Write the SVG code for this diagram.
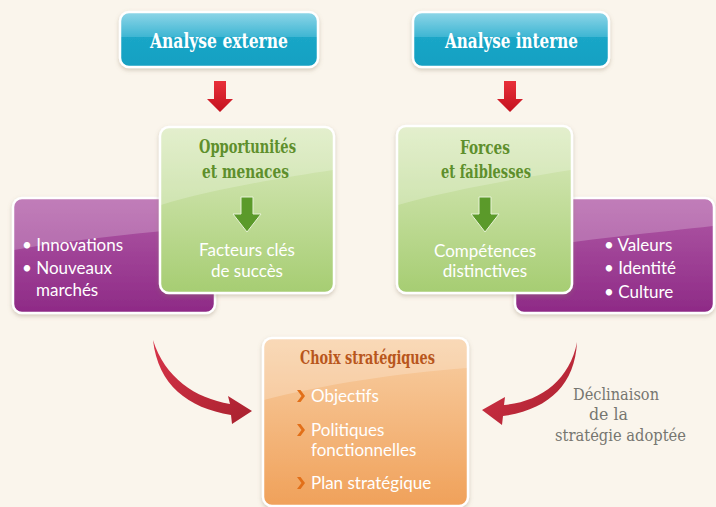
<svg xmlns="http://www.w3.org/2000/svg" width="716" height="507" viewBox="0 0 716 507">
<defs>
<linearGradient id="gBlue" x1="0" y1="0" x2="0" y2="1"><stop offset="0" stop-color="#8fd6e8"/><stop offset="0.45" stop-color="#3fb6d3"/><stop offset="0.46" stop-color="#1aa6c7"/><stop offset="1" stop-color="#14a0c2"/></linearGradient>
<linearGradient id="gGreen" x1="0" y1="0" x2="0" y2="1"><stop offset="0" stop-color="#dcebc0"/><stop offset="1" stop-color="#a6cd72"/></linearGradient>
<linearGradient id="gPurple" x1="0" y1="0" x2="0" y2="1"><stop offset="0" stop-color="#b05aa6"/><stop offset="1" stop-color="#8e2a86"/></linearGradient>
<linearGradient id="gOrange" x1="0" y1="0" x2="0" y2="1"><stop offset="0" stop-color="#f8cfa4"/><stop offset="1" stop-color="#f0a15a"/></linearGradient>
<linearGradient id="gRed" x1="0" y1="0" x2="0" y2="1"><stop offset="0" stop-color="#e8303a"/><stop offset="1" stop-color="#c4121f"/></linearGradient>
<linearGradient id="gCurve" x1="0" y1="0" x2="1" y2="1"><stop offset="0" stop-color="#d8344a"/><stop offset="1" stop-color="#a8212e"/></linearGradient>
<filter id="sh" x="-10%" y="-10%" width="120%" height="130%"><feDropShadow dx="0" dy="2" stdDeviation="2" flood-color="#8a7a60" flood-opacity="0.35"/></filter>
<path id="chev" d="M0 -6 L3.5 -6 L8 0 L3.5 6 L0 6 L4.5 0 Z" fill="#e26f18"/>
</defs>
<style>
.box{stroke:#ffffff;stroke-width:2.5;filter:url(#sh)}
.slab{font-family:"DejaVu Serif",serif;font-weight:bold}
.lbl{font-family:"DejaVu Serif",serif;font-weight:normal;font-size:17px;fill:#767670}
.body{font-family:Lato,"Open Sans",sans-serif;font-size:17px;fill:#ffffff}
.hl{fill:#ffffff;opacity:0.22}
</style>
<rect width="716" height="507" fill="#faf5ec"/>

<g id="connectors">
<path d="M214 81 h12 v18 h7 l-13 13 l-13 -13 h7 z" fill="url(#gRed)"/>
<path d="M504 81 h12 v18 h7 l-13 13 l-13 -13 h7 z" fill="url(#gRed)"/>
<path d="M153 340 C165 378 195 398 230 404 L228 396 L252 411 L232 424 L231 415 C188 408 158 385 153 340 Z" fill="url(#gCurve)"/>
<path d="M577 342 C570 380 540 402 504 405 L505 397 L482 410 L502 425 L503 416 C548 410 575 385 577 342 Z" fill="url(#gCurve)"/>
</g>

<g id="node-analyse-externe">
<rect class="box" x="120" y="12" width="198" height="55" rx="9" fill="url(#gBlue)"/>
<text class="slab" x="150" y="48" font-size="21" fill="#ffffff" textLength="138" lengthAdjust="spacingAndGlyphs">Analyse externe</text>
</g>
<g id="node-analyse-interne">
<rect class="box" x="413" y="12" width="196" height="55" rx="9" fill="url(#gBlue)"/>
<text class="slab" x="445" y="48" font-size="21" fill="#ffffff" textLength="133" lengthAdjust="spacingAndGlyphs">Analyse interne</text>
</g>

<g id="node-innovations">
<rect class="box" x="13" y="198" width="202" height="115" rx="9" fill="url(#gPurple)"/>
<path class="hl" d="M14 199 H214 V226 C150 232 70 240 14 250 Z"/>
<text class="body"><tspan x="22" y="251">• Innovations</tspan><tspan x="22" y="274">• Nouveaux</tspan><tspan x="36" y="296">marchés</tspan></text>
</g>
<g id="node-valeurs">
<rect class="box" x="515" y="198" width="199" height="115" rx="9" fill="url(#gPurple)"/>
<path class="hl" d="M516 199 H713 V226 C660 232 580 240 516 250 Z"/>
<text class="body"><tspan x="604" y="251">• Valeurs</tspan><tspan x="604" y="274">• Identité</tspan><tspan x="604" y="298">• Culture</tspan></text>
</g>

<g id="node-opportunites">
<rect class="box" x="160" y="127" width="174" height="166" rx="9" fill="url(#gGreen)"/>
<path class="hl" d="M161 128 H333 V170 C280 178 210 190 161 205 Z"/>
<text class="slab" x="199" y="153" font-size="19" fill="#5e8f2c" textLength="97" lengthAdjust="spacingAndGlyphs">Opportunités</text>
<text class="slab" x="202" y="178" font-size="19" fill="#5e8f2c" textLength="87" lengthAdjust="spacingAndGlyphs">et menaces</text>
<path d="M241 197 h12 v17 h8 l-14 18 l-14 -18 h8 z" fill="#5b9a2a" stroke="#e8f2d6" stroke-width="1"/>
<text class="body" text-anchor="middle"><tspan x="247" y="256">Facteurs clés</tspan><tspan x="247" y="277">de succès</tspan></text>
</g>
<g id="node-forces">
<rect class="box" x="397" y="126" width="175" height="167" rx="9" fill="url(#gGreen)"/>
<path class="hl" d="M398 127 H571 V170 C520 178 450 190 398 205 Z"/>
<text class="slab" x="460" y="154" font-size="19" fill="#5e8f2c" textLength="50" lengthAdjust="spacingAndGlyphs">Forces</text>
<text class="slab" x="441" y="178" font-size="19" fill="#5e8f2c" textLength="90" lengthAdjust="spacingAndGlyphs">et faiblesses</text>
<path d="M479 197 h12 v17 h8 l-14 18 l-14 -18 h8 z" fill="#5b9a2a" stroke="#e8f2d6" stroke-width="1"/>
<text class="body" text-anchor="middle"><tspan x="485" y="257">Compétences</tspan><tspan x="485" y="277">distinctives</tspan></text>
</g>

<g id="node-choix">
<rect class="box" x="263" y="338" width="205" height="168" rx="9" fill="url(#gOrange)"/>
<path class="hl" d="M264 339 H467 V368 C400 373 320 385 264 400 Z"/>
<text class="slab" x="300" y="364" font-size="19" fill="#b8561c" textLength="135" lengthAdjust="spacingAndGlyphs">Choix stratégiques</text>
<use href="#chev" x="297" y="396"/>
<use href="#chev" x="297" y="430"/>
<use href="#chev" x="297" y="483"/>
<text class="body"><tspan x="311" y="402">Objectifs</tspan><tspan x="311" y="436">Politiques</tspan><tspan x="311" y="456">fonctionnelles</tspan><tspan x="311" y="489">Plan stratégique</tspan></text>
</g>

<g id="label-declinaison">
<text class="lbl" x="573" y="400" textLength="86" lengthAdjust="spacingAndGlyphs">Déclinaison</text>
<text class="lbl" x="589" y="420" textLength="39" lengthAdjust="spacingAndGlyphs">de la</text>
<text class="lbl" x="555" y="441" textLength="131" lengthAdjust="spacingAndGlyphs">stratégie adoptée</text>
</g>
</svg>
